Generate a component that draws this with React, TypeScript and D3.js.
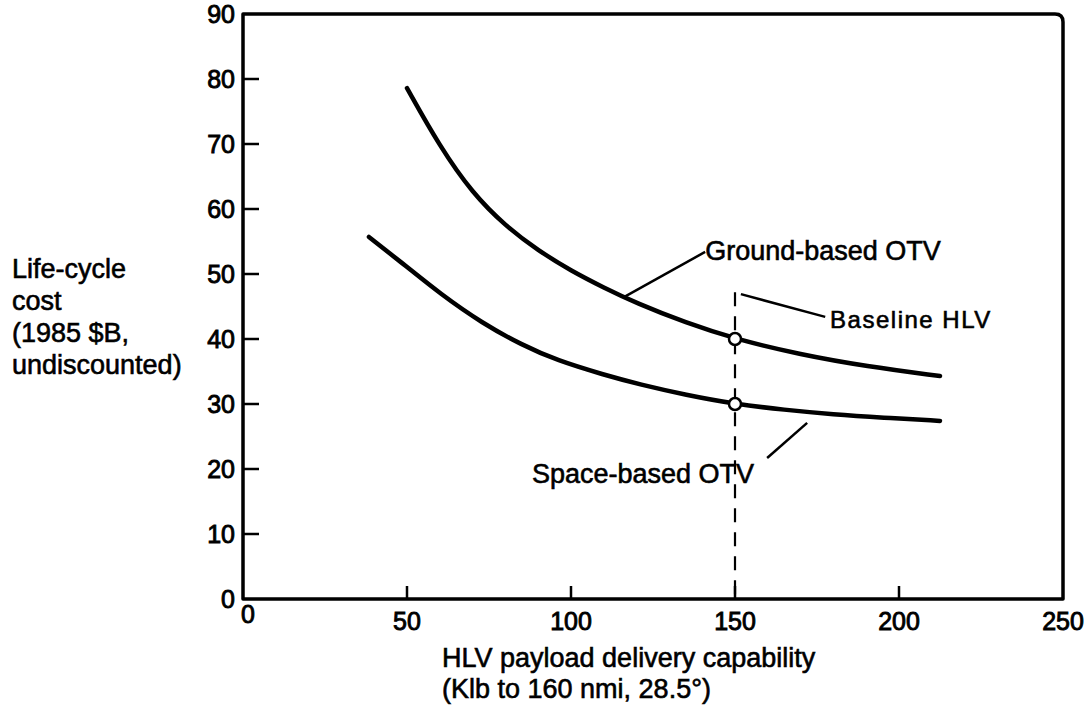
import React from "react";
import * as d3 from "d3";

const xTicks = [0, 50, 100, 150, 200, 250];
const yTicks = [0, 10, 20, 30, 40, 50, 60, 70, 80, 90];

const groundX = [50, 60, 70, 80, 90, 100, 110, 120, 135, 150, 170, 190, 212.5];
const groundY = [78.6, 69.6, 62.4, 57.4, 53.6, 50.5, 47.9, 45.5, 42.5, 40.0, 37.6, 35.8, 34.3];

const spaceX = [38.4, 50, 60, 73, 85, 95.7, 110, 121, 135, 150, 165, 180, 195, 212.5];
const spaceY = [55.7, 51.1, 47.0, 42.4, 39.1, 36.7, 34.5, 33.0, 31.4, 30.0, 29.1, 28.4, 27.9, 27.4];

const baselineX = 150;
const baselinePoints = [40.0, 30.0];

const yTitle = ["Life-cycle", "cost", "(1985 $B,", "undiscounted)"];
const xTitle = ["HLV payload delivery capability", "(Klb to 160 nmi, 28.5°)"];

const W = 1091;
const H = 705;

export default function App() {
  const x = d3.scaleLinear().domain([0, 250]).range([243, 1063]);
  const y = d3.scaleLinear().domain([0, 90]).range([599, 14]);
  const line = d3
    .line<[number, number]>()
    .x((d) => x(d[0]))
    .y((d) => y(d[1]))
    .curve(d3.curveBasis);
  const ground = groundX.map((v, i) => [v, groundY[i]] as [number, number]);
  const space = spaceX.map((v, i) => [v, spaceY[i]] as [number, number]);

  const x0 = x(0), x1 = x(250), y0 = y(0), y1 = y(90);
  const frame = `M${x0},${y0} V${y1} H${x1 - 8} Q${x1},${y1} ${x1},${y1 + 8} V${y0} Z`;
  const font = "'Liberation Sans', Arial, Helvetica, sans-serif";
  const txt = { fill: "#000", stroke: "#000", strokeWidth: 0.6 };
  const tick = { fill: "#000", stroke: "#000", strokeWidth: 0.9 };

  return (
    <svg
      width={W}
      height={H}
      style={{ position: "absolute", left: 0, top: 0, background: "#fff" }}
      fontFamily={font}
    >
      <rect x={0} y={0} width={W} height={H} fill="#fff" />
      <path d={frame} fill="none" stroke="#000" strokeWidth={3.5} strokeLinejoin="round" />
      {yTicks.slice(1, -1).map((t) => (
        <line key={"yt" + t} x1={x0} x2={x0 + 16} y1={y(t)} y2={y(t)} stroke="#000" strokeWidth={2.5} />
      ))}
      {xTicks.slice(1, -1).map((t) => (
        <line key={"xt" + t} x1={x(t)} x2={x(t)} y1={y0} y2={y0 - 13} stroke="#000" strokeWidth={2.5} />
      ))}
      {yTicks.map((t) => (
        <text key={"yl" + t} x={235} y={y(t)} dy="0.36em" textAnchor="end" fontSize={25} {...tick}>
          {t}
        </text>
      ))}
      {xTicks.map((t) => (
        <text
          key={"xl" + t}
          x={t === 0 ? x(t) + 5 : x(t)}
          y={t === 0 ? y0 + 24 : y0 + 31}
          textAnchor="middle"
          fontSize={25}
          {...tick}
        >
          {t}
        </text>
      ))}
      <line
        x1={x(baselineX)}
        x2={x(baselineX)}
        y1={y(47.2)}
        y2={y0}
        stroke="#000"
        strokeWidth={2.2}
        strokeDasharray="14 10"
      />
      <path d={line(ground) || ""} fill="none" stroke="#000" strokeWidth={4.5} strokeLinecap="round" />
      <path d={line(space) || ""} fill="none" stroke="#000" strokeWidth={4.5} strokeLinecap="round" />
      {baselinePoints.map((v, i) => (
        <circle key={"bp" + i} cx={x(baselineX)} cy={y(v)} r={6} fill="#fff" stroke="#000" strokeWidth={2.5} />
      ))}
      <line x1={x(116)} y1={y(46.4)} x2={x(140.9)} y2={y(53.4)} stroke="#000" strokeWidth={2.5} />
      <line x1={x(151.8)} y1={y(46.9)} x2={x(177.5)} y2={y(43.4)} stroke="#000" strokeWidth={2.5} />
      <line x1={x(159.8)} y1={y(21.7)} x2={x(172)} y2={y(27.1)} stroke="#000" strokeWidth={2.5} />
      <text x={x(140.9)} y={y(52.2)} fontSize={27} {...txt}>Ground-based OTV</text>
      <text x={x(179)} y={y(41.7)} fontSize={24} letterSpacing={1.5} {...txt}>Baseline HLV</text>
      <text x={x(88.1)} y={y(17.8)} fontSize={27} {...txt}>Space-based OTV</text>
      {yTitle.map((s, i) => (
        <text key={"ytt" + i} x={12} y={278 + i * 32} fontSize={27} {...txt}>
          {s}
        </text>
      ))}
      {xTitle.map((s, i) => (
        <text key={"xtt" + i} x={442} y={667 + i * 31} fontSize={27} {...txt}>
          {s}
        </text>
      ))}
    </svg>
  );
}
